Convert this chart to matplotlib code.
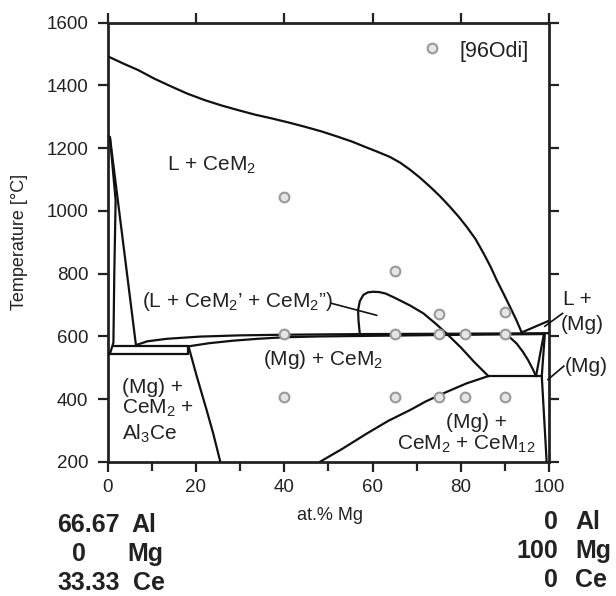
import numpy as np
import matplotlib
matplotlib.use('Agg')
import matplotlib.pyplot as plt

plt.rcParams['font.family'] = ['Liberation Sans', 'DejaVu Sans']
plt.rcParams['mathtext.fontset'] = 'custom'
plt.rcParams['mathtext.rm'] = 'Liberation Sans'
plt.rcParams['mathtext.it'] = 'Liberation Sans:italic'
plt.rcParams['mathtext.bf'] = 'Liberation Sans:bold'

##DATA##########################################################################
# phase boundaries, (at.% Mg, T in degC)
liquidus = [(0.3, 1491), (3.5, 1470), (6.9, 1449), (10.5, 1422), (14.5, 1396), (18, 1374),
            (22.0, 1353), (25.8, 1336), (29.6, 1321), (33.3, 1307), (37.1, 1295),
            (40.9, 1282), (44.7, 1268), (48.5, 1253), (52.2, 1236), (55.3, 1221),
            (58.3, 1204), (61, 1189), (63.9, 1172), (66.2, 1154), (68.4, 1132),
            (70.7, 1106), (73.0, 1077), (75.3, 1046), (77.5, 1013), (79.5, 981),
            (81.3, 949), (83.3, 910), (85.1, 865), (86.7, 822), (88.1, 779),
            (89.6, 737), (91.1, 694), (92.5, 653), (93.7, 614)]
cem2_left = [(0.5, 1236), (6.4, 572)]
cem2_right = [(0.5, 1236), (1.8, 1034), (1.5, 800), (1.3, 580), (0.6, 548), (0.0, 543)]
box_upper = [(1.3, 570), (18.3, 570)]
box_lower = [(0.0, 543), (18.3, 543), (18.3, 570)]
al3ce_bound = [(18.3, 568), (20.2, 471), (22.4, 365), (23.9, 290), (25.5, 200)]
eutectic_up = [(6.4, 572), (9, 584), (13.4, 592), (20.9, 599), (30, 603), (40, 605),
               (57, 607), (75, 608), (90, 609), (99.9, 610)]
eutectic_low = [(18.3, 568), (23, 578), (28.4, 586), (34, 592), (40, 597), (48, 599.5),
                (57, 601), (75, 604), (90, 606), (98.6, 607)]
dome = [(57.1, 606), (56.8, 650), (56.7, 684), (57.1, 712), (57.9, 732), (58.9, 740),
        (60.1, 742), (61.5, 741), (63, 736), (65.4, 720), (68.5, 698), (71.5, 673),
        (74.3, 640), (76.8, 608), (80, 564), (83, 518), (86.2, 473)]
cem12_bound = [(48.1, 200), (53, 240), (58.7, 290), (63.5, 330), (68.5, 365), (72, 392),
               (76, 418), (81.3, 450), (86.2, 473)]
peritectic = [(86.2, 473), (98.3, 473)]
mg_curve = [(89.6, 609), (91.2, 595), (92.6, 577), (94, 551), (95.2, 524), (96.2, 497),
            (97.0, 473)]
mg_tri = [(97.0, 473), (98.8, 609)]
mg_solvus = [(99.0, 609), (98.3, 473), (99.4, 200)]
mg_liquidus = [(93.7, 612), (100, 650)]

# experimental points [96Odi]
exp_x = [40, 65, 75, 90, 40, 65, 75, 81, 90, 40, 65, 75, 81, 90]
exp_t = [1045, 808, 671, 678, 607, 607, 607, 607, 608, 405, 405, 405, 405, 405]
legend_pt = (73.4, 1520)
################################################################################

fig = plt.figure(figsize=(6.16, 5.96), dpi=100)
ax = fig.add_axes([0.1748, 0.2253, 0.7169, 0.7366])

for c in [liquidus, cem2_left, cem2_right, box_upper, box_lower, al3ce_bound,
          eutectic_up, eutectic_low, dome, cem12_bound, peritectic, mg_curve,
          mg_tri, mg_solvus, mg_liquidus]:
    c = np.array(c)
    ax.plot(c[:, 0], c[:, 1], color='#111111', lw=1.6, solid_capstyle='round',
            solid_joinstyle='round', zorder=3)

mk = dict(marker='o', ls='none', ms=7, mfc='#e6e6e6', mec='#999999', mew=1.5, zorder=4)
ax.plot(exp_x, exp_t, **mk)
ax.plot([legend_pt[0]], [legend_pt[1]], **mk)
ax.text(79.6, 1490, '[96Odi]', fontsize=15.5, color='#222222')

fs = 15
ax.text(13.4, 1128, 'L + CeM$_2$', fontsize=fs, color='#222222')
ax.text(7.7, 694, '(L + CeM$_2$’ + CeM$_2$”)', fontsize=fs, color='#222222')
ax.text(35.2, 508, '(Mg) + CeM$_2$', fontsize=fs, color='#222222')
ax.text(3.2, 420, '(Mg) +', fontsize=fs, color='#222222')
ax.text(3.2, 354, 'CeM$_2$ +', fontsize=fs, color='#222222')
ax.text(3.2, 271, 'Al$_3$Ce', fontsize=fs, color='#222222')
ax.text(83.4, 306, '(Mg) +', fontsize=fs, color='#222222', ha='center')
ax.text(81.3, 237, 'CeM$_2$ + CeM$_{12}$', fontsize=fs, color='#222222', ha='center')
ax.text(103.2, 700, 'L +', fontsize=fs, color='#222222', clip_on=False)
ax.text(102.6, 620, '(Mg)', fontsize=fs, color='#222222', clip_on=False)
ax.text(103.4, 487, '(Mg)', fontsize=fs, color='#222222', clip_on=False)

# leader lines
ax.plot([50.7, 60.9], [705, 667], color='#111111', lw=1.2, zorder=3)
ax.plot([103.0, 99.0], [673, 632], color='#111111', lw=1.2, clip_on=False, zorder=3)
ax.plot([103.3, 99.7], [505, 462], color='#111111', lw=1.2, clip_on=False, zorder=3)

ax.set_xlim(0, 100)
ax.set_ylim(200, 1600)
ax.set_xticks([0, 20, 40, 60, 80, 100])
ax.set_xticks([10, 30, 50, 70, 90], minor=True)
ax.set_yticks(np.arange(200, 1601, 200))
for s in ax.spines.values():
    s.set_linewidth(2.0)
    s.set_color('#222222')
ax.tick_params(which='major', direction='out', length=7, width=1.6, color='#222222',
               labelsize=13.5, labelcolor='#222222', top=True, right=True)
ax.tick_params(axis='x', which='major', pad=5.5)
ax.tick_params(axis='y', which='major', pad=7)
ax.tick_params(axis='x', which='minor', direction='out', length=6.5, width=1.6,
               color='#222222', top=False)

fig.text(20 / 616, 1 - 242 / 596, 'Temperature [°C]', rotation=90, fontsize=13,
         ha='center', va='center', color='#222222')
fig.text(330 / 616, 1 - 516 / 596, 'at.% Mg', fontsize=13, ha='center', va='center',
         color='#222222')

bfs = 18
left_nums = [('66.67', 57, 'Al', 131, 532), ('0', 72, 'Mg', 127, 561), ('33.33', 57, 'Ce', 133, 590)]
for num, nx, el, ex, y in left_nums:
    fig.text(nx / 616, 1 - y / 596, num, fontsize=bfs, fontweight='bold', color='#222222')
    fig.text(ex / 616, 1 - y / 596, el, fontsize=bfs, fontweight='bold', color='#222222')
right_nums = [('0', 'Al', 529), ('100', 'Mg', 558), ('0', 'Ce', 587)]
for num, el, y in right_nums:
    fig.text(558 / 616, 1 - y / 596, num, fontsize=bfs, fontweight='bold', color='#222222', ha='right')
    fig.text(575 / 616, 1 - y / 596, el, fontsize=bfs, fontweight='bold', color='#222222')

fig.savefig('out.png', dpi=100)
